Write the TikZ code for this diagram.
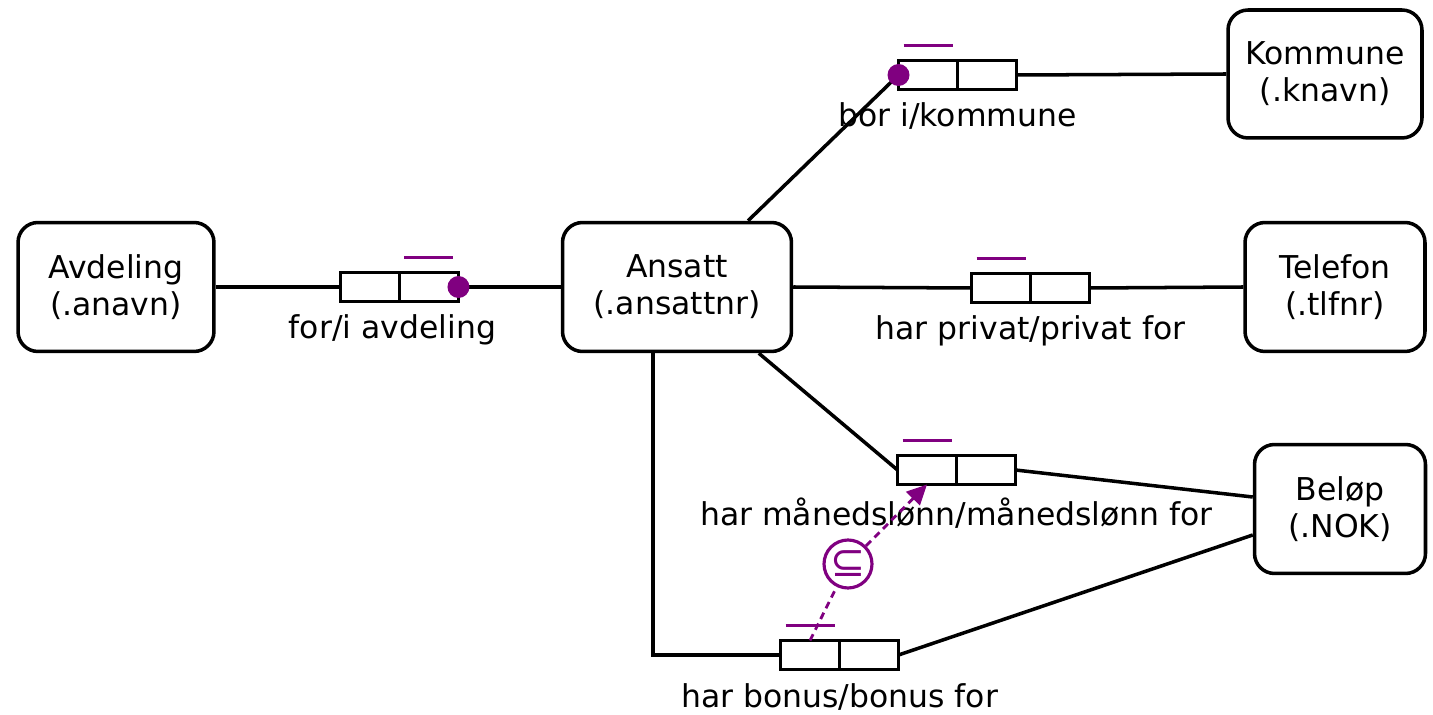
\documentclass[tikz,border=0pt]{standalone}
\usepackage{fontspec}
\setmainfont{DejaVu Sans}
\usetikzlibrary{positioning,arrows.meta}
\definecolor{ormpurple}{RGB}{128,0,128}

\begin{document}
\begin{tikzpicture}[x=0.02cm,y=-0.02cm,
  font=\fontsize{17.9}{21}\selectfont,
  line width=2pt,
  entity/.style={draw,rounded corners=0.4cm,align=center,minimum height=2.58cm},
  role/.style={draw,minimum width=1.18cm,minimum height=0.58cm,inner sep=0pt,outer sep=0pt},
  uniq/.style={draw=ormpurple,line width=2.2pt},
  mand/.style={fill=ormpurple},
  subset/.style={draw=ormpurple,line width=1.6pt,dash pattern=on 0.14cm off 0.1cm}]
  \useasboundingbox (0,0) rectangle (1433,715);
  % entity types
  \node[entity,minimum width=3.92cm] (avd) at (116,287) {Avdeling\\(.anavn)};
  \node[entity,minimum width=4.58cm] (ans) at (677,287) {Ansatt\\(.ansattnr)};
  \node[entity,minimum width=3.88cm,minimum height=2.56cm] (kom) at (1325,74) {Kommune\\(.knavn)};
  \node[entity,minimum width=3.6cm] (tlf) at (1335,287) {Telefon\\(.tlfnr)};
  \node[entity,minimum width=3.42cm] (bel) at (1340,509) {Beløp\\(.NOK)};
  % fact types (two roles each)
  \foreach \n/\x/\y in {fa/370/287, bo/928/75, pr/1001/288, ml/927/470, bn/810/655}{
    \node[role] (\n1) at (\x,\y) {};
    \node[role,right=0pt of \n1] (\n2) {};
  }
  \node[below=0.12cm of fa1.south east,xshift=-0.14cm] (lfa) {for/i avdeling};
  \node[below=0.12cm of bo1.south east] (lbo) {bor i/kommune};
  \node[below=0.12cm of pr1.south east] (lpr) {har privat/privat for};
  \node[below=0.12cm of ml1.south east] (lml) {har månedslønn/månedslønn for};
  \node[below=0.12cm of bn1.south east] (lbn) {har bonus/bonus for};
  % uniqueness bars
  \foreach \r in {fa2,bo1,pr1,ml1,bn1}{
    \draw[uniq] ([shift={(0.1cm,0.3cm)}]\r.north west) -- ([shift={(-0.1cm,0.3cm)}]\r.north east);
  }
  % connectors
  \draw (avd.east) -- (fa1.west);
  \draw (fa2.east) -- (ans.west);
  \draw (ans.43) -- (bo1.west);
  \draw (bo2.east) -- (kom.west);
  \draw (ans.east) -- (pr1.west);
  \draw (pr2.east) -- (tlf.west);
  \draw (ans.-39) -- (ml1.west);
  \draw (ml2.east) -- ([yshift=0.24cm]bel.west);
  \draw ([xshift=-0.48cm]ans.south) |- (bn1.west);
  \draw (bn2.east) -- ([yshift=-0.52cm]bel.west);
  % mandatory dots
  \fill[mand] (fa2.east) circle (0.22cm);
  \fill[mand] (bo1.west) circle (0.22cm);
  % subset constraint
  \node[circle,draw=ormpurple,line width=1.8pt,text=ormpurple,minimum size=0.96cm,inner sep=0pt,font=\fontsize{24}{28}\selectfont] (sub) at (848,564) {⊆};
  \draw[subset] (bn1.north) -- (sub);
  \draw[subset,-{Triangle[length=0.4cm,width=0.38cm]}] (sub) -- (ml1.south);
\end{tikzpicture}
\end{document}
